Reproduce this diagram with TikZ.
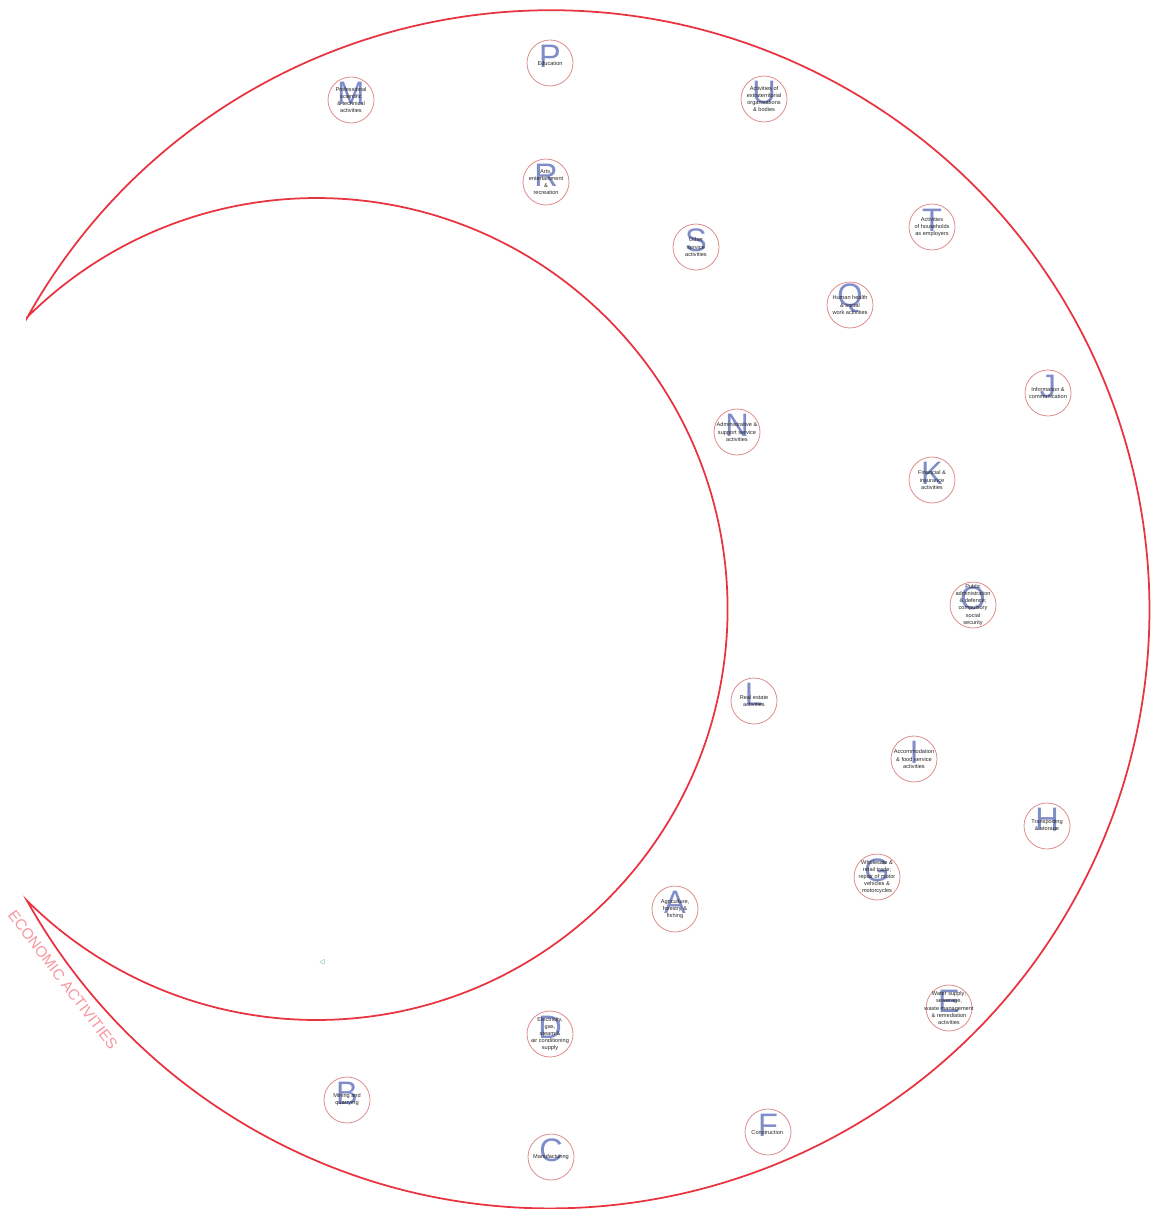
\documentclass[tikz,border=0pt]{standalone}
\usepackage{fontspec}
\setmainfont{Liberation Sans}
\usepackage{xcolor}
\usepackage{tikz}

\definecolor{moonred}{RGB}{232,52,64}
\definecolor{ringred}{RGB}{222,140,140}
\definecolor{letterblue}{RGB}{105,120,190}
\definecolor{titlered}{RGB}{246,150,158}
\definecolor{marktea}{RGB}{120,190,180}

\begin{document}
\begin{tikzpicture}[
  x=0.02cm, y=0.02cm,
  moon/.style={draw=moonred, line width=1pt, line join=miter},
  sector/.style={circle, draw=ringred, line width=0.45pt, minimum size=0.92cm, inner sep=0pt},
  letter/.style={text=letterblue, opacity=0.85, font=\fontsize{18.5}{18.5}\selectfont, inner sep=0pt, yshift=0.13cm},
  desc/.style={font=\fontsize{3.2}{4}\selectfont, align=center, inner sep=0pt, text=black!85},
  title/.style={text=titlered, font=\fontsize{8.6}{9}\selectfont, inner sep=0pt},
  marker/.style={text=marktea, font=\tiny, inner sep=0pt}
]
  \useasboundingbox (0,0) rectangle (1152,-1209);

  % crescent outline
  \draw[moon] (27,-318) arc[start angle=150.9, end angle=-150.9, radius=599]
    arc[start angle=-134.8, end angle=134.8, radius=411] -- cycle;

  % sectors
  \foreach \ltr/\px/\py/\txt in {
    P/550/63/{Education},
    M/351/100/{Professional\\scientific\\\& technical\\activities},
    U/764/99/{Activities of\\extraterritorial\\organisations\\\& bodies},
    R/546/182/{Arts,\\entertainment\\\&\\recreation},
    T/932/227/{Activities\\of households\\as employers},
    S/696/247/{Other\\service\\activities},
    Q/850/305/{Human health\\\& social\\work activities},
    J/1048/393/{Information \&\\communication},
    N/737/432/{Administrative \&\\support service\\activities},
    K/932/480/{Financial \&\\insurance\\activities},
    O/973/605/{Public\\administration\\\& defence;\\compulsory\\social\\security},
    L/754/701/{Real estate\\activities},
    I/914/759/{Accommodation\\\& food service\\activities},
    H/1047/826/{Transporting\\\& storage},
    G/877/877/{Wholesale \&\\retail trade;\\repair of motor\\vehicles \&\\motorcycles},
    A/675/909/{Agriculture,\\forestry \&\\fishing},
    E/949/1008/{Water supply;\\sewerage,\\waste management\\\& remediation\\activities},
    D/550/1034/{Electricity,\\gas,\\steam \&\\air conditioning\\supply},
    B/347/1100/{Mining and\\quarrying},
    C/551/1157/{Manufacturing},
    F/768/1132/{Construction}
  }{
    \node[sector] (sec-\ltr) at (\px,-\py) {};
    \node[letter] (ltr-\ltr) at (sec-\ltr) {\ltr};
    \node[desc] (txt-\ltr) at (sec-\ltr) {\txt};
  }

  \node[marker] (mark) at (322,-962) {$\triangleleft$};
  \node[title, rotate=-52.7] (econ) at (63,-980) {ECONOMIC ACTIVITIES};
\end{tikzpicture}
\end{document}
